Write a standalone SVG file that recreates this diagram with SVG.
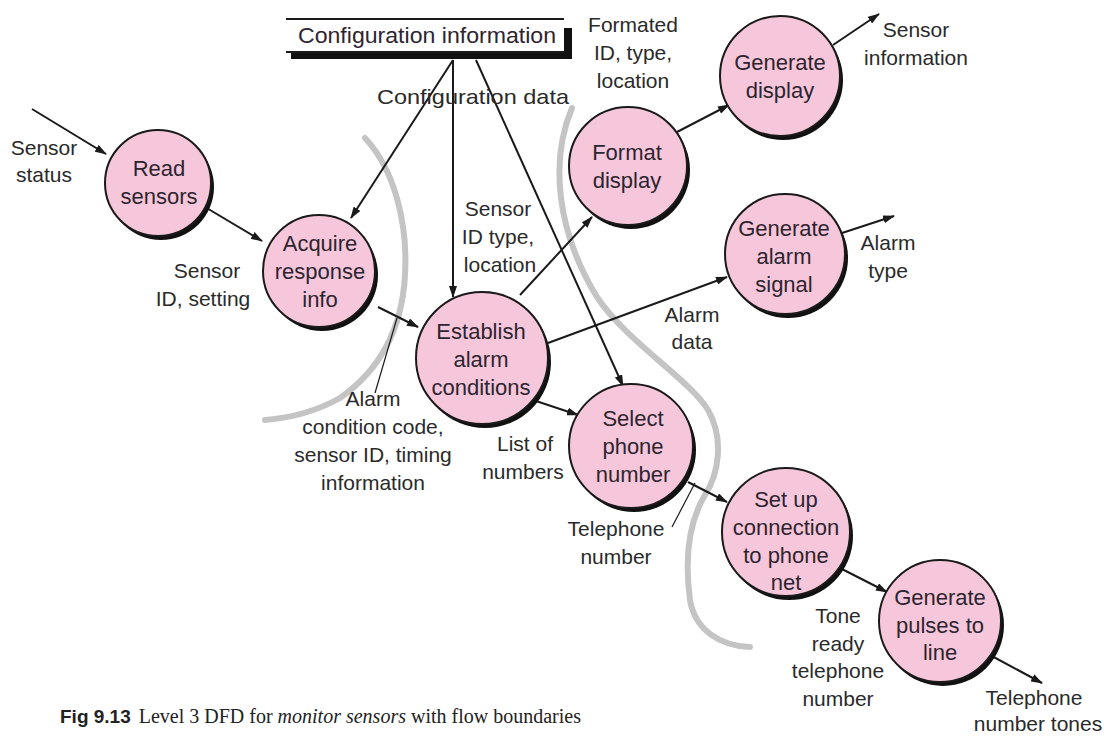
<svg xmlns="http://www.w3.org/2000/svg" width="1104" height="736" viewBox="0 0 1104 736">
<style>
.sh{fill:#111}
.bub{fill:#f6c7da;stroke:#1a1a1a;stroke-width:2}
.t{font-family:"Liberation Sans",Arial,sans-serif;font-size:22px;fill:#2e2430;text-anchor:middle}
.tn{font-family:"Liberation Sans",Arial,sans-serif;font-size:21px;fill:#2a2a2a;text-anchor:middle}
.c{stroke:#1a1a1a;stroke-width:2;fill:none}
.a{stroke:#1a1a1a;stroke-width:2;fill:none;marker-end:url(#ah)}
.lead{stroke:#1a1a1a;stroke-width:1.2;fill:none}
.bd{stroke:#c4c4c4;stroke-width:6;fill:none;stroke-linecap:round}
.cap{font-family:"Liberation Serif","Times New Roman",serif;font-size:20px;fill:#222}
</style>
<defs>
<marker id="ah" viewBox="0 0 12 8" refX="11" refY="4" markerWidth="12" markerHeight="8" markerUnits="userSpaceOnUse" orient="auto">
<path d="M0,0 L12,4 L0,8 Z" fill="#1a1a1a"/>
</marker>
</defs>
<rect width="1104" height="736" fill="#fff"/>

<g id="boundaries">
<path class="bd" d="M365 138 C395 170 408 225 405 275 C402 330 380 370 340 398 C315 412 290 418 265 420"/>
<path class="bd" d="M572 108 C550 160 556 230 597 297 C625 340 690 380 708 410 C725 440 718 475 705 495 C690 520 684 555 690 600 C695 630 720 646 750 647"/>
</g>

<g id="connectors">
<path class="a" d="M32 109 L106 154"/>
<path class="a" d="M205 207 L262 241"/>
<path class="a" d="M453 60 L351 218"/>
<path class="a" d="M453 60 L453 297"/>
<path class="a" d="M476 60 L623 386"/>
<path class="a" d="M378 307 L418 327"/>
<path class="a" d="M520 295 L592 217"/>
<path class="a" d="M677 132 L729 105"/>
<path class="a" d="M833 45 L879 14"/>
<path class="a" d="M548 343 L727 277"/>
<path class="a" d="M842 233 L894 216"/>
<path class="a" d="M533 400 L578 415"/>
<path class="a" d="M688 482 L727 502"/>
<path class="a" d="M838 567 L887 592"/>
<path class="a" d="M990 655 L1042 683"/>
<path class="lead" d="M375 393 L397 318"/>
<path class="lead" d="M672 527 L695 483"/>
</g>

<g id="store">
<line class="c" x1="286" y1="19" x2="564" y2="19"/>
<line class="c" x1="286" y1="52" x2="564" y2="52"/>
<rect x="291" y="53" width="281" height="6" fill="#111"/>
<rect x="564" y="28" width="8" height="31" fill="#111"/>
<text class="t" x="427" y="43" textLength="258" lengthAdjust="spacingAndGlyphs" fill="#222">Configuration information</text>
</g>

<g id="n-read">
<circle class="sh" cx="161" cy="187" r="53"/>
<circle class="bub" cx="158" cy="183" r="53"/>
<text class="t" x="159" y="176">Read</text>
<text class="t" x="159" y="204">sensors</text>
</g>
<g id="n-acquire">
<circle class="sh" cx="322" cy="275" r="56"/>
<circle class="bub" cx="319" cy="271" r="56"/>
<text class="t" x="320" y="251">Acquire</text>
<text class="t" x="320" y="279">response</text>
<text class="t" x="320" y="307">info</text>
</g>
<g id="n-establish">
<circle class="sh" cx="485" cy="362" r="66"/>
<circle class="bub" cx="482" cy="358" r="66"/>
<text class="t" x="481" y="339">Establish</text>
<text class="t" x="481" y="367">alarm</text>
<text class="t" x="481" y="395">conditions</text>
</g>
<g id="n-format">
<circle class="sh" cx="631" cy="170" r="59"/>
<circle class="bub" cx="628" cy="166" r="59"/>
<text class="t" x="627" y="160">Format</text>
<text class="t" x="627" y="188">display</text>
</g>
<g id="n-gendisplay">
<circle class="sh" cx="783" cy="80" r="60"/>
<circle class="bub" cx="780" cy="76" r="60"/>
<text class="t" x="780" y="70">Generate</text>
<text class="t" x="780" y="98">display</text>
</g>
<g id="n-genalarm">
<circle class="sh" cx="788" cy="258" r="60"/>
<circle class="bub" cx="785" cy="254" r="60"/>
<text class="t" x="784" y="236">Generate</text>
<text class="t" x="784" y="264">alarm</text>
<text class="t" x="784" y="292">signal</text>
</g>
<g id="n-select">
<circle class="sh" cx="634" cy="450" r="62"/>
<circle class="bub" cx="631" cy="446" r="62"/>
<text class="t" x="633" y="426">Select</text>
<text class="t" x="633" y="454">phone</text>
<text class="t" x="633" y="482">number</text>
</g>
<g id="n-setup">
<circle class="sh" cx="789" cy="536" r="64"/>
<circle class="bub" cx="786" cy="532" r="64"/>
<text class="t" x="786" y="507">Set up</text>
<text class="t" x="786" y="535">connection</text>
<text class="t" x="786" y="563">to phone</text>
<text class="t" x="786" y="590">net</text>
</g>
<g id="n-pulses">
<circle class="sh" cx="943" cy="625" r="61"/>
<circle class="bub" cx="940" cy="621" r="61"/>
<text class="t" x="940" y="605">Generate</text>
<text class="t" x="940" y="633">pulses to</text>
<text class="t" x="940" y="660">line</text>
</g>

<g id="labels">
<text class="tn" x="44" y="155">Sensor</text>
<text class="tn" x="44" y="182">status</text>
<text class="tn" x="207" y="278">Sensor</text>
<text class="tn" x="203" y="306">ID, setting</text>
<text class="tn" x="473" y="104" textLength="192" lengthAdjust="spacingAndGlyphs">Configuration data</text>
<text class="tn" x="498" y="216">Sensor</text>
<text class="tn" x="498" y="244">ID type,</text>
<text class="tn" x="500" y="272">location</text>
<text class="tn" x="633" y="32">Formated</text>
<text class="tn" x="633" y="60">ID, type,</text>
<text class="tn" x="633" y="88">location</text>
<text class="tn" x="916" y="37">Sensor</text>
<text class="tn" x="916" y="65">information</text>
<text class="tn" x="888" y="250">Alarm</text>
<text class="tn" x="888" y="278">type</text>
<text class="tn" x="692" y="322">Alarm</text>
<text class="tn" x="692" y="349">data</text>
<text class="tn" x="373" y="406">Alarm</text>
<text class="tn" x="373" y="434">condition code,</text>
<text class="tn" x="373" y="462">sensor ID, timing</text>
<text class="tn" x="373" y="490">information</text>
<text class="tn" x="525" y="451">List of</text>
<text class="tn" x="523" y="479">numbers</text>
<text class="tn" x="616" y="536">Telephone</text>
<text class="tn" x="616" y="564">number</text>
<text class="tn" x="838" y="623">Tone</text>
<text class="tn" x="838" y="651">ready</text>
<text class="tn" x="838" y="678">telephone</text>
<text class="tn" x="838" y="706">number</text>
<text class="tn" x="1034" y="705">Telephone</text>
<text class="tn" x="1038" y="731">number tones</text>
</g>

<g id="caption">
<text class="cap" x="60" y="723"><tspan font-family="Liberation Sans, Arial, sans-serif" font-weight="bold" font-size="19">Fig 9.13</tspan><tspan dx="8">Level 3 DFD for </tspan><tspan font-style="italic">monitor sensors</tspan><tspan> with flow boundaries</tspan></text>
</g>
</svg>
